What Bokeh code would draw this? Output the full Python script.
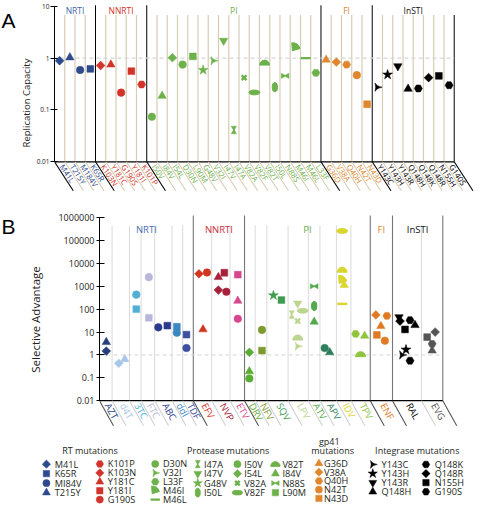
import math
from bokeh.plotting import figure
from bokeh.layouts import column, row
from bokeh.models import Range1d, FixedTicker, ColumnDataSource
from bokeh.embed import file_html
from bokeh.resources import INLINE
from bokeh.core.properties import value

FONT = "Open Sans"

# ================= DATA =================
# Panel A : replication capacity of single mutants
a_groups = ["NRTI", "NNRTI", "PI", "FI", "InSTI"]
a_group_sizes = [4, 5, 17, 5, 8]
a_mutations = ["M41L", "T215Y", "M184V", "K65R",
               "K103N", "Y181C", "G190S", "Y181I", "K101P",
               "I50V", "I84V", "I54L", "D30N", "L90M", "G48V", "V32I", "I47V", "I47A",
               "V82A", "V82F", "V82T", "I50L", "N88S", "M46I", "M46L", "L33F",
               "G36D", "V38A", "Q40H", "N42T", "N43D",
               "Y143C", "Y143H", "Y143R", "Q148H", "Q148K", "Q148R", "N155H", "G140S"]
a_capacity = [0.89, 1.03, 0.59, 0.62,
              0.72, 0.75, 0.216, 0.56, 0.31,
              0.074, 0.187, 1.02, 0.75, 1.08, 0.59, 0.89, 2.17, 0.041,
              0.42, 0.218, 0.81, 0.275, 0.455, 1.58, 1.0, 0.52,
              0.93, 0.84, 0.75, 0.47, 0.129,
              0.275, 0.48, 0.70, 0.256, 0.26, 0.42, 0.455, 0.30]
a_ticks = [0.01, 0.1, 1.0, 10.0]
a_tick_labels = ["0.01", "0.1", "1", "10"]

# Panel B : selective advantage per drug
b_drugs = ["AZT", "d4T", "3TC", "FTC", "ABC", "ddI", "TDF",
           "EFV", "NVP", "ETV",
           "DRV", "NFV", "SQV", "LPV", "ATV", "APV", "IDV", "TPV",
           "ENF", "RAL", "EVG"]
b_drug_class = ["NRTI"] * 7 + ["NNRTI"] * 3 + ["PI"] * 8 + ["FI"] + ["InSTI"] * 2
b_point_drug = ["AZT", "AZT", "d4T", "d4T", "3TC", "3TC", "FTC", "FTC", "ABC", "ABC",
                "ddI", "ddI", "TDF", "TDF",
                "EFV", "EFV", "EFV", "NVP", "NVP", "NVP", "NVP", "ETV", "ETV", "ETV",
                "DRV", "DRV", "DRV", "NFV", "NFV", "SQV", "SQV",
                "LPV", "LPV", "LPV", "LPV", "LPV", "LPV",
                "ATV", "ATV", "ATV", "APV", "APV",
                "IDV", "IDV", "IDV", "IDV", "IDV", "TPV", "TPV", "TPV",
                "ENF", "ENF", "ENF", "ENF", "ENF",
                "RAL", "RAL", "RAL", "RAL", "RAL", "RAL", "RAL", "RAL",
                "EVG", "EVG", "EVG", "EVG"]
b_point_mutation = ["T215Y", "M41L", "M41L", "T215Y", "M184V", "K65R", "M184V", "K65R", "M184V", "K65R",
                    "K65R", "M184V", "K65R", "M184V",
                    "K103N", "G190S", "Y181C", "Y181C", "Y181I", "K103N", "G190S", "Y181I", "Y181C", "G190S",
                    "I54L", "I84V", "I50V", "D30N", "L90M", "G48V", "L90M",
                    "I47V", "I47A", "V82F", "V82A", "V82T", "V32I",
                    "N88S", "I50L", "I84V", "I50V", "I84V",
                    "V82F", "V82T", "M46I", "I84V", "M46L", "L33F", "I84V", "V82T",
                    "V38A", "Q40H", "G36D", "N43D", "N42T",
                    "Y143R", "Q148R", "Q148K", "Q148H", "N155H", "Y143H", "Y143C", "G140S",
                    "N155H", "Q148R", "G140S", "Q148H"]
b_point_advantage = [3.6, 1.47, 0.43, 0.65, 430, 100, 2500, 42, 16, 19,
                     17, 9.3, 7.7, 2.0,
                     3500, 4000, 13, 2500, 3900, 680, 575, 3200, 230, 38,
                     1.3, 0.19, 0.094, 12.4, 1.55, 400, 250,
                     178, 58, 85, 30, 5.6, 2.4,
                     1000, 137, 28, 2.0, 1.3,
                     260000, 5100, 1800, 1130, 170, 8.3, 6.8, 1.05,
                     56, 51, 18, 7.5, 4.2,
                     45, 30, 33, 20, 13, 1.7, 1.0, 0.56,
                     6.0, 10, 3.05, 1.55]
b_ticks = [0.01, 0.1, 1.0, 10.0, 100.0, 1000.0, 10000.0, 100000.0, 1000000.0]
b_tick_labels = ["0.01", "0.1", "1", "10", "100", "1000", "10000", "100000", "1000000"]

# Legend entries (label text, mutation)
leg_titles = ["RT mutations", "Protease mutations", "gp41", "mutations", "Integrase mutations"]
leg_rt_nrti = ["M41L", "K65R", "MI84V", "T215Y"]
leg_rt_nrti_mut = ["M41L", "K65R", "M184V", "T215Y"]
leg_rt_nnrti = ["K101P", "K103N", "Y181C", "Y181I", "G190S"]
leg_pr_1 = ["D30N", "V32I", "L33F", "M46I", "M46L"]
leg_pr_2 = ["I47A", "I47V", "G48V", "I50L"]
leg_pr_3 = ["I50V", "I54L", "V82A", "V82F"]
leg_pr_4 = ["V82T", "I84V", "N88S", "L90M"]
leg_gp41 = ["G36D", "V38A", "Q40H", "N42T", "N43D"]
leg_in_1 = ["Y143C", "Y143H", "Y143R", "Q148H"]
leg_in_2 = ["Q148K", "Q148R", "N155H", "G190S"]
leg_in_2_mut = ["Q148K", "Q148R", "N155H", "G140S"]

# ================= STYLE =================
SHAPES = {"M41L": "diamond", "T215Y": "triangle", "M184V": "circle", "K65R": "square",
          "K103N": "diamond", "Y181C": "triangle", "G190S": "circle", "Y181I": "square", "K101P": "hex",
          "I50V": "circle", "I84V": "triangle", "I54L": "diamond", "D30N": "circle", "L90M": "square",
          "G48V": "star", "V32I": "chevron", "I47V": "inverted_triangle", "I47A": "hourglass",
          "V82A": "x", "V82F": "hellipse", "V82T": "dome", "I50L": "vellipse", "N88S": "bowtie",
          "M46I": "wedge", "M46L": "dash", "L33F": "hex",
          "G36D": "triangle", "V38A": "diamond", "Q40H": "hex", "N42T": "circle", "N43D": "square",
          "Y143C": "chevron", "Y143H": "star", "Y143R": "inverted_triangle", "Q148H": "triangle",
          "Q148K": "hex", "Q148R": "diamond", "N155H": "square", "G140S": "hex"}

A_COL = {"NRTI": "#2c4a8c", "NNRTI": "#d2342b", "PI": "#6cb14a", "FI": "#e0862c", "InSTI": "#000000"}
A_HEAD = {"NRTI": "#4466a6", "NNRTI": "#d2342b", "PI": "#6cb14a", "FI": "#e0862c", "InSTI": "#111111"}
B_HEAD = {"NRTI": "#4a70b2", "NNRTI": "#cc2f3e", "PI": "#6cb14a", "FI": "#e08a3a", "InSTI": "#111111"}
B_COL = {"AZT": "#283f7c", "d4T": "#a9c6e8", "3TC": "#4fb0d4", "FTC": "#b9b6dc", "ABC": "#2b3a8c",
         "ddI": "#3b88c0", "TDF": "#3c4fa0", "EFV": "#d2351f", "NVP": "#a8213a", "ETV": "#d6478f",
         "DRV": "#5aad33", "NFV": "#7c9a2e", "SQV": "#3d9c4f", "LPV": "#bcd58f", "ATV": "#53a94b",
         "APV": "#2f7e5c", "IDV": "#d9d62f", "TPV": "#90c43d", "ENF": "#e07a22", "RAL": "#000000",
         "EVG": "#555555"}
TAN = "#d9ccb4"
W = 474
LET_W = 16


def draw_marks(p, xs, ys, keys, colors, size, shift_x, shift_y):
    sc = dict(x=[], y=[], mk=[], sz=[], ang=[], col=[])
    ln = dict(x=[], y=[], mk=[], sz=[], col=[])
    el = dict(x=[], y=[], w=[], h=[], col=[])
    wd = dict(x=[], y=[], r=[], a0=[], a1=[], col=[])

    def put(d, **kw):
        for k, v in kw.items():
            d[k].append(v)

    for x, y, k, c in zip(xs, ys, keys, colors):
        shp = SHAPES[k]
        if shp == "circle":
            put(sc, x=x, y=y, mk="circle", sz=size * 0.95, ang=0.0, col=c)
        elif shp == "square":
            put(sc, x=x, y=y, mk="square", sz=size * 0.85, ang=0.0, col=c)
        elif shp == "diamond":
            put(sc, x=x, y=y, mk="square", sz=size * 0.78, ang=math.pi / 4, col=c)
        elif shp == "triangle":
            put(sc, x=x, y=y, mk="triangle", sz=size * 1.05, ang=0.0, col=c)
        elif shp == "inverted_triangle":
            put(sc, x=x, y=y, mk="inverted_triangle", sz=size * 1.05, ang=0.0, col=c)
        elif shp == "star":
            put(sc, x=x, y=y, mk="star", sz=size * 1.3, ang=0.0, col=c)
        elif shp == "hex":
            put(sc, x=x, y=y, mk="hex", sz=size * 1.0, ang=0.0, col=c)
        elif shp == "chevron":
            put(sc, x=x, y=y, mk="triangle_pin", sz=size * 1.05, ang=-math.pi / 2, col=c)
        elif shp == "hourglass":
            put(sc, x=x, y=shift_y(y, 2.3), mk="inverted_triangle", sz=size * 0.65, ang=0.0, col=c)
            put(sc, x=x, y=shift_y(y, -2.3), mk="triangle", sz=size * 0.65, ang=0.0, col=c)
        elif shp == "bowtie":
            put(sc, x=shift_x(x, -2.3), y=y, mk="triangle", sz=size * 0.65, ang=-math.pi / 2, col=c)
            put(sc, x=shift_x(x, 2.3), y=y, mk="triangle", sz=size * 0.65, ang=math.pi / 2, col=c)
        elif shp == "x":
            put(ln, x=x, y=y, mk="x", sz=size * 0.85, col=c)
        elif shp == "dash":
            put(ln, x=x, y=y, mk="dash", sz=size * 1.25, col=c)
        elif shp == "hellipse":
            put(el, x=x, y=y, w=size * 1.35, h=size * 0.6, col=c)
        elif shp == "vellipse":
            put(el, x=x, y=y, w=size * 0.65, h=size * 1.15, col=c)
        elif shp == "dome":
            put(wd, x=x, y=shift_y(y, -2.2), r=size * 0.62, a0=0.0, a1=math.pi, col=c)
        elif shp == "wedge":
            put(wd, x=shift_x(x, -3.0), y=shift_y(y, -3.0), r=size * 1.0, a0=0.3, a1=1.65, col=c)

    if sc["x"]:
        p.scatter(x="x", y="y", marker="mk", size="sz", angle="ang", fill_color="col",
                  line_color="col", line_width=0.5, source=ColumnDataSource(sc))
    if ln["x"]:
        p.scatter(x="x", y="y", marker="mk", size="sz", line_color="col", line_width=2.4,
                  source=ColumnDataSource(ln))
    if el["x"]:
        p.ellipse(x="x", y="y", width="w", height="h", width_units="screen", height_units="screen",
                  fill_color="col", line_color="col", source=ColumnDataSource(el))
    if wd["x"]:
        p.wedge(x="x", y="y", radius="r", radius_units="screen", start_angle="a0", end_angle="a1",
                fill_color="col", line_color="col", source=ColumnDataSource(wd))


def style_axis(ax, ticks, labels, bounds, tick_size, label, label_size, standoff, tin, tout, lstand):
    ax.ticker = FixedTicker(ticks=ticks, minor_ticks=[])
    ax.major_label_overrides = dict(zip(ticks, labels))
    ax.bounds = bounds
    ax.axis_line_color = "black"
    ax.axis_line_width = 1
    ax.major_tick_line_color = "black"
    ax.major_tick_in = tin
    ax.major_tick_out = tout
    ax.minor_tick_line_color = None
    ax.major_label_text_font = FONT
    ax.major_label_text_font_size = tick_size
    ax.major_label_text_color = "#222222"
    ax.major_label_standoff = lstand
    ax.axis_label = label
    ax.axis_label_text_font = FONT
    ax.axis_label_text_font_size = label_size
    ax.axis_label_text_font_style = "normal"
    ax.axis_label_text_color = "#222222"
    ax.axis_label_standoff = standoff


def letter_fig(h, letter, baseline_from_top):
    f = figure(width=LET_W, height=h, x_range=Range1d(0, LET_W), y_range=Range1d(0, h),
               x_axis_type=None, y_axis_type=None, toolbar_location=None, output_backend="svg",
               title=None, min_border_left=0, min_border_right=0, min_border_top=0,
               min_border_bottom=0)
    f.outline_line_color = None
    f.grid.visible = False
    f.text(x=[1.0], y=[h - baseline_from_top], text=[letter], text_color="black",
           text_font=value("Liberation Sans"), text_font_size=value("21px"),
           text_align=value("left"), text_baseline=value("alphabetic"))
    return f


# ================= PANEL A =================
A_H = 205
A_DEC = 51.83
A_BIN = 10.42
A_LEFT = 31
a_shift_x = lambda x, px: x + px / A_BIN
a_shift_y = lambda y, px: y * 10 ** (px / A_DEC)
A_FRAME_W = W - LET_W - A_LEFT

pA = figure(width=W - LET_W, height=A_H, x_range=Range1d(-0.5, -0.5 + A_FRAME_W / A_BIN),
            y_range=Range1d(10 ** -2.843, 10 ** 1.112), y_axis_type="log", x_axis_type=None,
            toolbar_location=None, output_backend="svg", title=None,
            min_border_left=A_LEFT, min_border_right=0, min_border_top=0, min_border_bottom=0)
pA.outline_line_color = None
pA.ygrid.visible = False
style_axis(pA.yaxis[0], a_ticks, a_tick_labels, (0.01, 10), "6.5px",
           "Replication Capacity", "9.5px", 1, 3, 4, 1)

a_bounds = [-0.5]
for n in a_group_sizes:
    a_bounds.append(a_bounds[-1] + n)
a_n = len(a_mutations)
a_groupof = []
for g, n in zip(a_groups, a_group_sizes):
    a_groupof += [g] * n

a_inner = [i + 0.5 for i in range(a_n - 1) if (i + 0.5) not in a_bounds]
pA.segment(x0=a_inner, y0=[0.01] * len(a_inner), x1=a_inner,
           y1=[10 ** 0.832] * len(a_inner), line_color=TAN, line_width=1.2)
pA.segment(x0=a_bounds[1:-1], y0=[0.01] * 4, x1=a_bounds[1:-1], y1=[10 ** 1.02] * 4,
           line_color="black", line_width=1)
pA.segment(x0=[a_bounds[-1]], y0=[0.01], x1=[a_bounds[-1]], y1=[10 ** 0.832],
           line_color="black", line_width=1)
pA.segment(x0=[-0.5], y0=[1.0], x1=[a_bounds[-1]], y1=[1.0], line_color="#d6d6d6",
           line_width=1.2, line_dash="4 3")
pA.segment(x0=[-0.5], y0=[0.01], x1=[a_bounds[-1]], y1=[0.01], line_color="black", line_width=1.2)

A_ANG = math.radians(56.7)
a_drop = 29.0
a_dx = a_drop / math.tan(A_ANG)
all_b = [-0.5] + [i + 0.5 for i in range(a_n)]
a_diag_col = ["black" if b in a_bounds else TAN for b in all_b]
pA.segment(x0=all_b, y0=[0.01] * len(all_b), x1=[a_shift_x(b, a_dx) for b in all_b],
           y1=[a_shift_y(0.01, -a_drop)] * len(all_b), line_color=a_diag_col, line_width=1.1)

a_head_x = [(a_bounds[i] + a_bounds[i + 1]) / 2 for i in range(len(a_groups))]
pA.text(x=a_head_x, y=[10 ** 0.925] * len(a_groups), text=a_groups,
        text_color=[A_HEAD[g] for g in a_groups], text_font=value(FONT),
        text_font_size=value("8.5px"), text_align=value("center"), text_baseline=value("middle"))

a_lab_off = 4.0
pA.text(x=[a_shift_x(i, a_lab_off * math.cos(A_ANG)) for i in range(a_n)],
        y=[a_shift_y(0.01, -a_lab_off * math.sin(A_ANG))] * a_n, text=a_mutations,
        angle=-A_ANG, text_color=[A_COL[g] for g in a_groupof], text_font=value(FONT),
        text_font_size=value("7.8px"), text_align=value("left"), text_baseline=value("middle"))

draw_marks(pA, list(range(a_n)), a_capacity, a_mutations, [A_COL[g] for g in a_groupof], 8.0,
           a_shift_x, a_shift_y)

letA = letter_fig(A_H, "A", 20.3)

# ================= PANEL B =================
B_H = 228
B_DEC = 22.89
B_SX = 0.967
B_LEFT = 83
b_shift_x = lambda x, px: x + px / B_SX
b_shift_y = lambda y, px: y * 10 ** (px / B_DEC)
b_widths = [13, 18, 12, 14, 18, 11, 11, 19, 19, 15, 11, 12, 22, 21, 12, 17, 15, 20, 23, 30, 22]
b_point_dx = [0.5, 0.5, -2, 4, 1, 1, 1, 1, -5, 4,
              -0.5, -0.5, -1.5, -1.5,
              -3.5, 4.5, 0.5, -2.5, 3.5, -2.5, 5.5, 0.5, 0.5, 0.5,
              -0.5, -0.5, -0.5, 1, 1, -4, 4,
              -0.5, -6.5, 4.5, -0.5, -0.5, -0.5,
              0, 0, 0, -3.5, 1.5,
              -1.5, -1.5, -1.5, 0.5, -1.5, -5, 4, 0,
              -5.5, 5.5, -0.5, -4.5, 3.5,
              -8, -7, 3, 8, -2, -1, -5, 3,
              -5, 3, 0, 0]
B_FRAME_W = W - LET_W - B_LEFT

pB = figure(width=W - LET_W, height=B_H, x_range=Range1d(0, B_FRAME_W / B_SX),
            y_range=Range1d(10 ** -3.433, 10 ** 6.529), y_axis_type="log", x_axis_type=None,
            toolbar_location=None, output_backend="svg", title=None,
            min_border_left=B_LEFT, min_border_right=0, min_border_top=0, min_border_bottom=0)
pB.outline_line_color = None
pB.ygrid.visible = False
style_axis(pB.yaxis[0], b_ticks, b_tick_labels, (0.01, 1e6), "9px",
           "Selective Advantage", "11.5px", 12, 5, 3, 2)

b_edges = [0.0]
for w_ in b_widths:
    b_edges.append(b_edges[-1] + w_)
b_center = {d: (b_edges[i] + b_edges[i + 1]) / 2 for i, d in enumerate(b_drugs)}
b_group_edges = [0.0]
for i in range(1, len(b_drugs)):
    if b_drug_class[i] != b_drug_class[i - 1]:
        b_group_edges.append(b_edges[i])
b_group_edges.append(b_edges[-1])
b_inner = [e for e in b_edges[1:-1] if e not in b_group_edges]

pB.segment(x0=b_inner, y0=[0.01] * len(b_inner), x1=b_inner, y1=[10 ** 5.66] * len(b_inner),
           line_color="#dadada", line_width=1)
pB.segment(x0=b_group_edges[1:], y0=[0.01] * (len(b_group_edges) - 1), x1=b_group_edges[1:],
           y1=[10 ** 6.09] * (len(b_group_edges) - 1), line_color="#777777", line_width=1.1)
pB.segment(x0=[0], y0=[1.0], x1=[b_edges[-1]], y1=[1.0], line_color="#d6d6d6",
           line_width=1.1, line_dash="4 3")
pB.segment(x0=[0], y0=[0.01], x1=[b_edges[-1]], y1=[0.01], line_color="black", line_width=1.2)

B_ANG = math.radians(60.8)
b_drop = 25.0
b_ddx = b_drop / math.tan(B_ANG)
b_diag_col = ["#555555" if e in b_group_edges else "#d0d0d0" for e in b_edges]
pB.segment(x0=b_edges, y0=[0.01] * len(b_edges), x1=[b_shift_x(e, b_ddx) for e in b_edges],
           y1=[b_shift_y(0.01, -b_drop)] * len(b_edges), line_color=b_diag_col, line_width=1.1)

b_classes = ["NRTI", "NNRTI", "PI", "FI", "InSTI"]
b_head_x = [(b_group_edges[i] + b_group_edges[i + 1]) / 2 for i in range(len(b_classes))]
pB.text(x=b_head_x, y=[10 ** 5.494] * len(b_classes), text=b_classes,
        text_color=[B_HEAD[g] for g in b_classes], text_font=value(FONT),
        text_font_size=value("9.5px"), text_align=value("center"), text_baseline=value("middle"))

b_lab_off = 3.5
pB.text(x=[b_shift_x(b_center[d], b_lab_off * math.cos(B_ANG)) for d in b_drugs],
        y=[b_shift_y(0.01, -b_lab_off * math.sin(B_ANG))] * len(b_drugs), text=b_drugs,
        angle=-B_ANG, text_color=[B_COL[d] for d in b_drugs], text_font=value(FONT),
        text_font_size=value("9.5px"), text_align=value("left"), text_baseline=value("middle"))

b_xs = [b_shift_x(b_center[d], dx) for d, dx in zip(b_point_drug, b_point_dx)]
draw_marks(pB, b_xs, b_point_advantage, b_point_mutation, [B_COL[d] for d in b_point_drug],
           8.0, b_shift_x, b_shift_y)

letB = letter_fig(B_H, "B", 20.8)

# ================= LEGEND =================
L_H = 73
L_SX, L_SY = 0.967, 0.969
L_BOTTOM_REF = 522.2
pL = figure(width=W, height=L_H, x_range=Range1d(0, W / L_SX), y_range=Range1d(0, L_H / L_SY),
            x_axis_type=None, y_axis_type=None, toolbar_location=None, output_backend="svg",
            title=None, min_border_left=0, min_border_right=0, min_border_top=0,
            min_border_bottom=0)
pL.outline_line_color = None
pL.grid.visible = False
ly = lambda yref: L_BOTTOM_REF - yref
l_shift_x = lambda x, px: x + px / L_SX
l_shift_y = lambda y, px: y + px / L_SY

pL.text(x=[92.5, 235.5, 340, 343.5, 431], y=[ly(464.3), ly(464.3), ly(455.5), ly(464.5), ly(464.3)],
        text=leg_titles, text_color="#231f20", text_font=value(FONT), text_font_size=value("9px"),
        text_align=value("center"), text_baseline=value("middle"))

leg_cols = [
    (leg_rt_nrti, leg_rt_nrti_mut, A_COL["NRTI"], 47.5, 56, 478.5, 9.8),
    (leg_rt_nnrti, leg_rt_nnrti, A_COL["NNRTI"], 102.7, 111, 478.3, 9.2),
    (leg_pr_1, leg_pr_1, A_COL["PI"], 160, 168, 478.3, 9.2),
    (leg_pr_2, leg_pr_2, A_COL["PI"], 204, 210.5, 478.5, 9.8),
    (leg_pr_3, leg_pr_3, A_COL["PI"], 245, 252, 478.5, 9.8),
    (leg_pr_4, leg_pr_4, A_COL["PI"], 284.3, 291.5, 478.5, 9.8),
    (leg_gp41, leg_gp41, A_COL["FI"], 329.3, 334.5, 477.8, 9.0),
    (leg_in_1, leg_in_1, A_COL["InSTI"], 385, 394, 478.8, 9.4),
    (leg_in_2, leg_in_2_mut, A_COL["InSTI"], 440, 449, 478.8, 9.4),
]
for labels, muts, col, mx, tx, y0, dy in leg_cols:
    ys = [ly(y0 + i * dy) for i in range(len(labels))]
    draw_marks(pL, [mx] * len(labels), ys, muts, [col] * len(labels), 7.5, l_shift_x, l_shift_y)
    pL.text(x=[tx] * len(labels), y=ys, text=labels, text_color="#231f20", text_font=value(FONT),
            text_font_size=value("9.2px"), text_align=value("left"), text_baseline=value("middle"))

layout = column(row(letA, pA, spacing=0), row(letB, pB, spacing=0), pL, spacing=0)
open("out.html", "w").write(file_html(layout, INLINE))
